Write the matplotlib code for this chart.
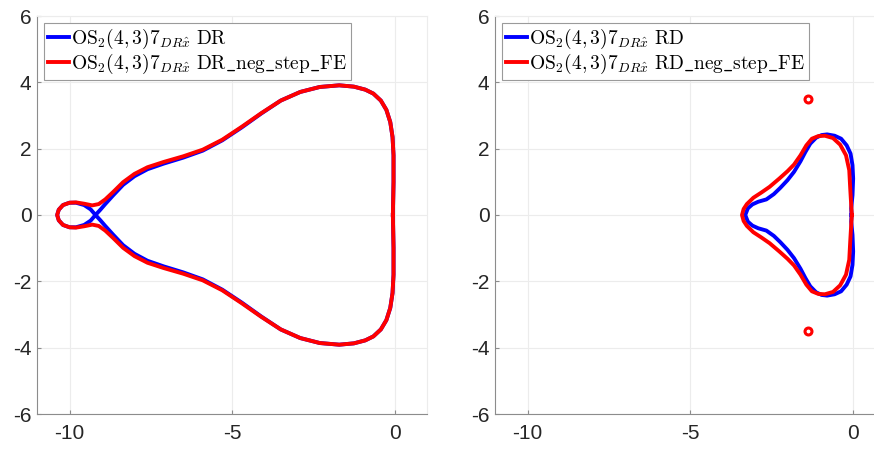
import matplotlib
matplotlib.use("Agg")
import matplotlib.pyplot as plt

plt.rcParams['font.family'] = ['Liberation Sans', 'DejaVu Sans']
plt.rcParams['mathtext.fontset'] = 'cm'
plt.rcParams['axes.unicode_minus'] = False

# --- left panel: DR boundaries (closed curves) ---
dr_x = [-0.05, -0.03, -0.03, -0.06, -0.13, -0.25, -0.42, -0.65, -0.9, -1.25,
        -1.7, -2.3, -2.9, -3.5, -4.1, -4.7, -5.3, -5.9, -6.5, -7.1,
        -7.6, -8.0, -8.35, -8.65, -8.9, -9.05, -9.2, -9.35, -9.55, -9.8,
        -10.0, -10.2, -10.33, -10.38, -10.33, -10.2, -10.0, -9.8, -9.55, -9.35,
        -9.2, -9.05, -8.9, -8.65, -8.35, -8.0, -7.6, -7.1, -6.5, -5.9,
        -5.3, -4.7, -4.1, -3.5, -2.9, -2.3, -1.7, -1.25, -0.9, -0.65,
        -0.42, -0.25, -0.13, -0.06, -0.03, -0.03, -0.05]
dr_y = [0.0, 1.0, 1.8, 2.35, 2.8, 3.17, 3.45, 3.66, 3.78, 3.87,
        3.91, 3.86, 3.71, 3.45, 3.06, 2.64, 2.25, 1.94, 1.73, 1.55,
        1.38, 1.17, 0.91, 0.6, 0.33, 0.16, 0.0, -0.17, -0.3, -0.37,
        -0.37, -0.3, -0.16, 0.0, 0.16, 0.3, 0.37, 0.37, 0.3, 0.17,
        0.0, -0.16, -0.33, -0.6, -0.91, -1.17, -1.38, -1.55, -1.73, -1.94,
        -2.25, -2.64, -3.06, -3.45, -3.71, -3.86, -3.91, -3.87, -3.78, -3.66,
        -3.45, -3.17, -2.8, -2.35, -1.8, -1.0, 0.0]

dr_fe_x = [-0.05, -0.03, -0.03, -0.06, -0.13, -0.25, -0.42, -0.65, -0.9, -1.25,
           -1.7, -2.3, -2.9, -3.5, -4.1, -4.7, -5.3, -5.9, -6.5, -7.1,
           -7.6, -8.0, -8.35, -8.65, -8.9, -9.1, -9.3, -9.55, -9.8, -10.0,
           -10.2, -10.33, -10.38, -10.33, -10.2, -10.0, -9.8, -9.55, -9.3, -9.1,
           -8.9, -8.65, -8.35, -8.0, -7.6, -7.1, -6.5, -5.9, -5.3, -4.7,
           -4.1, -3.5, -2.9, -2.3, -1.7, -1.25, -0.9, -0.65, -0.42, -0.25,
           -0.13, -0.06, -0.03, -0.03, -0.05]
dr_fe_y = [0.0, 1.0, 1.8, 2.35, 2.8, 3.17, 3.45, 3.66, 3.78, 3.87,
           3.91, 3.86, 3.71, 3.45, 3.07, 2.66, 2.27, 1.97, 1.77, 1.6,
           1.44, 1.24, 0.99, 0.7, 0.47, 0.33, 0.29, 0.34, 0.38, 0.37,
           0.3, 0.16, 0.0, -0.16, -0.3, -0.37, -0.38, -0.34, -0.29, -0.33,
           -0.47, -0.7, -0.99, -1.24, -1.44, -1.6, -1.77, -1.97, -2.27, -2.66,
           -3.07, -3.45, -3.71, -3.86, -3.91, -3.87, -3.78, -3.66, -3.45, -3.17,
           -2.8, -2.35, -1.8, -1.0, 0.0]

# --- right panel: RD boundaries ---
rd_x = [-0.03, -0.04, 0.0, 0.02, 0.0, -0.06, -0.18, -0.35, -0.55, -0.78,
        -0.95, -1.12, -1.3, -1.45, -1.6, -1.8, -2.0, -2.22, -2.42, -2.65,
        -2.9, -3.08, -3.22, -3.3, -3.22, -3.08, -2.9, -2.65, -2.42, -2.22,
        -2.0, -1.8, -1.6, -1.45, -1.3, -1.12, -0.95, -0.78, -0.55, -0.35,
        -0.18, -0.06, 0.0, 0.02, 0.0, -0.04, -0.03]
rd_y = [0.0, 0.2, 0.6, 1.1, 1.5, 1.85, 2.1, 2.3, 2.39, 2.43,
        2.41, 2.33, 2.15, 1.9, 1.62, 1.3, 1.05, 0.82, 0.63, 0.47,
        0.4, 0.32, 0.2, 0.0, -0.2, -0.32, -0.4, -0.47, -0.63, -0.82,
        -1.05, -1.3, -1.62, -1.9, -2.15, -2.33, -2.41, -2.43, -2.39, -2.3,
        -2.1, -1.85, -1.5, -1.1, -0.6, -0.2, 0.0]

rd_fe_x = [-0.02, -0.04, -0.07, -0.1, -0.2, -0.38, -0.6, -0.85, -1.05, -1.25,
           -1.42, -1.6, -1.8, -2.0, -2.25, -2.55, -2.8, -3.05, -3.25, -3.35,
           -3.4, -3.35, -3.25, -3.05, -2.8, -2.55, -2.25, -2.0, -1.8, -1.6,
           -1.42, -1.25, -1.05, -0.85, -0.6, -0.38, -0.2, -0.1, -0.07, -0.04,
           -0.02]
rd_fe_y = [0.0, 0.3, 0.8, 1.35, 1.8, 2.12, 2.32, 2.39, 2.38, 2.3,
           2.1, 1.8, 1.52, 1.32, 1.1, 0.85, 0.68, 0.52, 0.33, 0.18,
           0.0, -0.18, -0.33, -0.52, -0.68, -0.85, -1.1, -1.32, -1.52, -1.8,
           -2.1, -2.3, -2.38, -2.39, -2.32, -2.12, -1.8, -1.35, -0.8, -0.3,
           0.0]
# two tiny isolated loops of the RD_neg_step_FE boundary
rd_fe_pts_x = [-1.37, -1.37]
rd_fe_pts_y = [3.51, -3.51]

base = r'$\mathrm{OS}_2(4,3)7_{DR\hat{x}}\ \mathrm{%s}$'
labels_dr = [base % 'DR', base % r'DR\_neg\_step\_FE']
labels_rd = [base % 'RD', base % r'RD\_neg\_step\_FE']

fig = plt.figure(figsize=(8.74, 4.49), dpi=100)
ax1 = fig.add_axes([37/874, 35/449, 390/874, 398/449])
ax2 = fig.add_axes([495/874, 35/449, 390/874, 398/449])


def style(ax):
    ax.set_xlim(-11, 1)
    ax.set_ylim(-6, 6)
    ax.set_xticks([-10, -5, 0])
    ax.set_yticks([-6, -4, -2, 0, 2, 4, 6])
    ax.grid(True, color='#ececec', lw=0.8)
    ax.set_axisbelow(True)
    for s in ['top', 'right']:
        ax.spines[s].set_color('#ececec')
    for s in ['left', 'bottom']:
        ax.spines[s].set_color('#8c8c8c')
    ax.tick_params(direction='in', length=3, color='#8c8c8c',
                   labelsize=15, labelcolor='#262626')
    ax.tick_params(axis='x', pad=7)
    ax.tick_params(axis='y', pad=4)


lw = 2.8
ax1.plot(dr_x, dr_y, color='#0000ff', lw=lw, label=labels_dr[0])
ax1.plot(dr_fe_x, dr_fe_y, color='#ff0000', lw=lw, label=labels_dr[1])

ax2.plot(rd_x, rd_y, color='#0000ff', lw=lw, label=labels_rd[0])
ax2.plot(rd_fe_x, rd_fe_y, color='#ff0000', lw=lw, label=labels_rd[1])
ax2.plot(rd_fe_pts_x, rd_fe_pts_y, 'o', color='#ff0000', mfc='white',
         ms=5, mew=2.2, ls='none')

for ax in (ax1, ax2):
    style(ax)
    leg = ax.legend(loc='upper left', fontsize=14, fancybox=False,
                    framealpha=1, edgecolor='#9a9a9a', handlelength=1.1,
                    handletextpad=0.1, borderpad=0.2, labelspacing=0.05,
                    borderaxespad=0.35)
    leg.get_frame().set_linewidth(0.8)

fig.savefig('out.png', dpi=100)
